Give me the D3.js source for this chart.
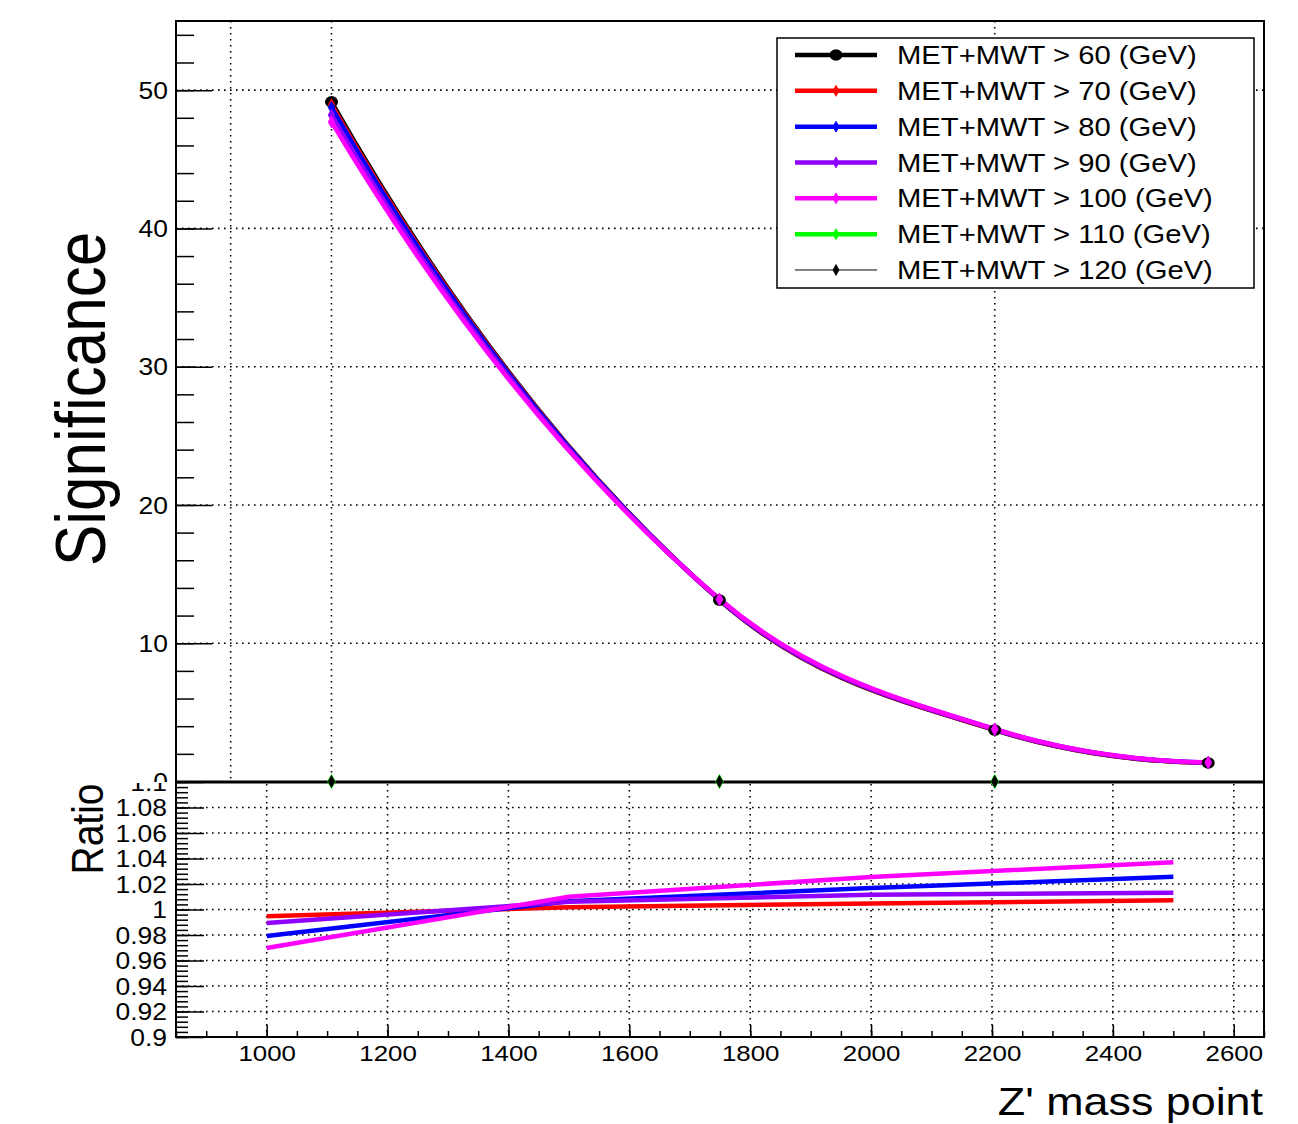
<!DOCTYPE html>
<html>
<head>
<meta charset="utf-8">
<script src="https://cdn.jsdelivr.net/npm/d3@7"></script>
<style>
body { margin: 0; background: #fff; }
text { font-family: "Liberation Sans", Arial, Helvetica, sans-serif; fill: #000; }
</style>
</head>
<body>
<svg id="chart" width="1298" height="1124"></svg>
<script>
// data
const massPoints = [1000, 1500, 2000, 2500]
const cutLabels = ['MET+MWT > 60 (GeV)', 'MET+MWT > 70 (GeV)', 'MET+MWT > 80 (GeV)', 'MET+MWT > 90 (GeV)',
	'MET+MWT > 100 (GeV)', 'MET+MWT > 110 (GeV)', 'MET+MWT > 120 (GeV)']
const sig60 = [49.15, 13.12, 3.72, 1.34]
const sig70 = [48.95, 13.14, 3.74, 1.35]
const sig80 = [48.75, 13.16, 3.78, 1.37]
const sig90 = [48.2, 13.16, 3.76, 1.36]
const sig100 = [47.7, 13.2, 3.8, 1.38]
const sig110 = [0, 0, 0]
const sig120 = [0, 0, 0]
const ratio70 = [0.9947, 1.0018, 1.0047, 1.0073]
const ratio80 = [0.9793, 1.0065, 1.0168, 1.0257]
const ratio90 = [0.9895, 1.006, 1.0115, 1.0131]
const ratio100 = [0.9698, 1.010, 1.0255, 1.037]
const sigTicks = [0, 10, 20, 30, 40, 50]
const ratioTicks = [0.9, 0.92, 0.94, 0.96, 0.98, 1, 1.02, 1.04, 1.06, 1.08, 1.1]
const massTicks = [1000, 1200, 1400, 1600, 1800, 2000, 2200, 2400, 2600]
const logGridX = [900, 1000, 2000]

const series = [
	{label: cutLabels[0], color: '#000000', width: 4.5, marker: 'circle', x: massPoints, sig: sig60, ratio: null},
	{label: cutLabels[1], color: '#ff0000', width: 4.5, marker: 'diamond', x: massPoints, sig: sig70, ratio: ratio70},
	{label: cutLabels[2], color: '#0000ff', width: 4.5, marker: 'diamond', x: massPoints, sig: sig80, ratio: ratio80},
	{label: cutLabels[3], color: '#9000ff', width: 4.5, marker: 'diamond', x: massPoints, sig: sig90, ratio: ratio90},
	{label: cutLabels[4], color: '#ff00ff', width: 4.5, marker: 'diamond', x: massPoints, sig: sig100, ratio: ratio100},
	{label: cutLabels[5], color: '#00ff00', width: 4.5, marker: 'diamond', x: massPoints.slice(0, 3), sig: sig110, ratio: null},
	{label: cutLabels[6], color: '#000000', width: 1, marker: 'diamond', x: massPoints.slice(0, 3), sig: sig120, ratio: null}
]

// layout (the picture is stretched a bit sideways, so the text is too)
const SX = 1.15
const left = 176, right = 1264
const topY = 21, midY = 782, botY = 1037

const svg = d3.select('#chart')

const xTop = d3.scaleLog().domain([850, 2650]).range([left, right])
const yTop = d3.scaleLinear().domain([0, 55]).range([midY - 0.5, topY])
const xBot = d3.scaleLinear().domain([850, 2650]).range([left, right])
const yBot = d3.scaleLinear().domain([0.9, 1.1]).range([botY, midY])

const defs = svg.append('defs')
defs.append('clipPath').attr('id', 'clipTop')
	.append('rect').attr('x', left).attr('y', topY).attr('width', right - left).attr('height', midY - topY - 3.5)
defs.append('clipPath').attr('id', 'clipBot')
	.append('rect').attr('x', left).attr('y', midY).attr('width', right - left).attr('height', botY - midY)
// axis groups are shifted by `left`, so these rects are in their coordinates
defs.append('clipPath').attr('id', 'clipBotLabels')
	.append('rect').attr('x', -left).attr('y', midY + 1).attr('width', 1298).attr('height', 400)
defs.append('clipPath').attr('id', 'clipTopLabels')
	.append('rect').attr('x', -left).attr('y', 0).attr('width', 1298).attr('height', midY)

// smooth curve through the points: cubic hermite pieces, slopes taken
// from the neighbours inside and from three points at both ends
function smoothCurve(context) {
	let pts = []
	return {
		areaStart() {},
		areaEnd() {},
		lineStart() { pts = [] },
		point(x, y) { pts.push([+x, +y]) },
		lineEnd() {
			const n = pts.length
			if (n === 0) return
			context.moveTo(pts[0][0], pts[0][1])
			if (n < 3) {
				for (let i = 1; i < n; i++) context.lineTo(pts[i][0], pts[i][1])
				return
			}
			const h = [], s = [], m = []
			for (let i = 0; i < n - 1; i++) {
				h.push(pts[i + 1][0] - pts[i][0])
				s.push((pts[i + 1][1] - pts[i][1]) / h[i])
			}
			m[0] = s[0] + (s[0] - s[1]) * h[0] / (h[0] + h[1])
			for (let i = 1; i < n - 1; i++) {
				const centred = (pts[i + 1][1] - pts[i - 1][1]) / (pts[i + 1][0] - pts[i - 1][0])
				const weighted = (s[i - 1] * h[i] + s[i] * h[i - 1]) / (h[i - 1] + h[i])
				m[i] = (centred + weighted) / 2
			}
			m[n - 1] = s[n - 2] + (s[n - 2] - s[n - 3]) * h[n - 2] / (h[n - 3] + h[n - 2])
			for (let i = 0; i < n - 1; i++) {
				const d = h[i] / 3
				context.bezierCurveTo(pts[i][0] + d, pts[i][1] + m[i] * d,
					pts[i + 1][0] - d, pts[i + 1][1] - m[i + 1] * d,
					pts[i + 1][0], pts[i + 1][1])
			}
		}
	}
}

function drawMarker(g, s, x, y, size) {
	if (s.marker === 'circle') {
		g.append('ellipse').attr('cx', x).attr('cy', y).attr('rx', 6.5).attr('ry', 5.8).attr('fill', s.color)
	} else {
		const w = size * 0.55
		g.append('path').attr('d', `M0,${-size} L${w},0 L0,${size} L${-w},0 Z`)
			.attr('transform', `translate(${x},${y})`).attr('fill', s.color)
			.attr('stroke', s.color).attr('stroke-width', 0.8)
	}
}

function stretchLabels(axisG, dx, dy) {
	axisG.selectAll('text').each(function () {
		d3.select(this).attr('x', 0).attr('y', 0).attr('dy', null)
			.attr('transform', `translate(${dx},${dy}) scale(${SX},1)`)
	})
}

const gridStyle = g => g.attr('stroke', '#000').attr('stroke-width', 1.6).attr('stroke-dasharray', '1.6,4.4').attr('fill', 'none')

// ---------- top pad ----------
const topGrid = svg.append('g').call(gridStyle)
topGrid.selectAll('.hgrid').data(sigTicks.filter(d => d > 0)).enter().append('line')
	.attr('x1', left).attr('x2', right).attr('y1', d => yTop(d)).attr('y2', d => yTop(d))
topGrid.selectAll('.vgrid').data(logGridX).enter().append('line')
	.attr('x1', d => xTop(d)).attr('x2', d => xTop(d)).attr('y1', topY).attr('y2', midY)

const yTopMinor = svg.append('g').attr('transform', `translate(${left},0)`)
	.call(d3.axisLeft(yTop).tickValues(d3.range(0, 55, 2)).tickSizeInner(-18).tickSizeOuter(0).tickFormat(''))
yTopMinor.select('.domain').remove()
const yTopAxis = svg.append('g').attr('transform', `translate(${left},0)`)
	.attr('clip-path', 'url(#clipTopLabels)')
	.call(d3.axisLeft(yTop).tickValues(sigTicks).tickSizeInner(-36).tickSizeOuter(0).tickPadding(8))
yTopAxis.select('.domain').remove()
yTopAxis.selectAll('text').attr('font-size', 23).attr('font-family', '"Liberation Sans", Arial, sans-serif')
stretchLabels(yTopAxis, -8, 8.2)

const topCurves = svg.append('g').attr('clip-path', 'url(#clipTop)')
const topLine = d3.line().curve(smoothCurve)
series.forEach(s => {
	const pts = s.x.map((m, i) => [xTop(m), yTop(s.sig[i])])
	topCurves.append('path').attr('d', topLine(pts))
		.attr('fill', 'none').attr('stroke', s.color).attr('stroke-width', s.width)
})
const topMarkers = svg.append('g')
series.slice(0, 5).forEach(s => {
	s.x.forEach((m, i) => drawMarker(topMarkers, s, xTop(m), yTop(s.sig[i]), 6))
})

// ---------- bottom pad ----------
const botGrid = svg.append('g').call(gridStyle)
botGrid.selectAll('.hgrid').data(ratioTicks.slice(1, -1)).enter().append('line')
	.attr('x1', left).attr('x2', right).attr('y1', d => yBot(d)).attr('y2', d => yBot(d))
botGrid.selectAll('.vgrid').data(massTicks).enter().append('line')
	.attr('x1', d => xBot(d)).attr('x2', d => xBot(d)).attr('y1', midY + 2).attr('y2', botY)

const yBotMinor = svg.append('g').attr('transform', `translate(${left},0)`)
	.call(d3.axisLeft(yBot).tickValues(d3.range(0, 51).map(i => 0.9 + i * 0.004)).tickSizeInner(-12).tickSizeOuter(0).tickFormat(''))
yBotMinor.select('.domain').remove()
const yBotAxis = svg.append('g').attr('transform', `translate(${left},0)`)
	.attr('clip-path', 'url(#clipBotLabels)')
	.call(d3.axisLeft(yBot).tickValues(ratioTicks).tickSizeInner(-28).tickSizeOuter(0).tickPadding(9).tickFormat(d3.format('~g')))
yBotAxis.select('.domain').remove()
yBotAxis.selectAll('text').attr('font-size', 23).attr('font-family', '"Liberation Sans", Arial, sans-serif')
stretchLabels(yBotAxis, -9, 8.2)

const xBotMinor = svg.append('g').attr('transform', `translate(0,${botY})`)
	.call(d3.axisBottom(xBot).tickValues(d3.range(850, 2651, 50)).tickSizeInner(-6).tickSizeOuter(0).tickFormat(''))
xBotMinor.select('.domain').remove()
const xBotAxis = svg.append('g').attr('transform', `translate(0,${botY})`)
	.call(d3.axisBottom(xBot).tickValues(massTicks).tickSizeInner(-12).tickSizeOuter(0).tickPadding(8).tickFormat(d3.format('d')))
xBotAxis.select('.domain').remove()
xBotAxis.selectAll('text').attr('font-size', 22.5).attr('font-family', '"Liberation Sans", Arial, sans-serif')
stretchLabels(xBotAxis, 0, 23.7)
svg.selectAll('.tick line').attr('stroke', '#000').attr('stroke-width', 1.5)

const ratioLine = d3.line()
const botCurves = svg.append('g').attr('clip-path', 'url(#clipBot)')
series.filter(s => s.ratio).forEach(s => {
	const pts = s.x.map((m, i) => [xBot(m), yBot(s.ratio[i])])
	botCurves.append('path').attr('d', ratioLine(pts))
		.attr('fill', 'none').attr('stroke', s.color).attr('stroke-width', s.width)
})

// frames
svg.append('path')
	.attr('d', `M${left},${midY} L${left},${topY} L${right},${topY} L${right},${midY}`)
	.attr('fill', 'none').attr('stroke', '#000').attr('stroke-width', 2)
svg.append('path')
	.attr('d', `M${left},${midY} L${left},${botY} L${right},${botY} L${right},${midY}`)
	.attr('fill', 'none').attr('stroke', '#000').attr('stroke-width', 2)
svg.append('line').attr('x1', left).attr('x2', right).attr('y1', midY).attr('y2', midY)
	.attr('stroke', '#000').attr('stroke-width', 3)

// markers of the empty selections sit on the zero line, above the frame
const zeroMarkers = svg.append('g')
series.slice(5).forEach((s, k) => {
	s.x.forEach((m, i) => drawMarker(zeroMarkers, s, xTop(m), yTop(s.sig[i]), k === 0 ? 7 : 6))
})

// titles
svg.append('text').text('Significance')
	.attr('text-anchor', 'middle').attr('font-size', 62)
	.attr('transform', `translate(105,399) scale(${SX},1) rotate(-90)`)
svg.append('text').text('Ratio')
	.attr('text-anchor', 'middle').attr('font-size', 39)
	.attr('transform', `translate(103,829) scale(${SX},1) rotate(-90)`)
svg.append('text').text("Z' mass point")
	.attr('text-anchor', 'end').attr('font-size', 39)
	.attr('transform', `translate(1263,1115) scale(${SX},1)`)

// legend
const legend = svg.append('g')
legend.append('rect').attr('x', 777).attr('y', 38).attr('width', 477).attr('height', 250)
	.attr('fill', '#fff').attr('stroke', '#000').attr('stroke-width', 1.5)
series.forEach((s, i) => {
	const y = 55 + i * 35.83
	legend.append('line').attr('x1', 795).attr('x2', 877).attr('y1', y).attr('y2', y)
		.attr('stroke', s.color).attr('stroke-width', s.width)
	drawMarker(legend, s, 836, y, 5.5)
	legend.append('text').text(s.label)
		.attr('font-size', 25.4).attr('dy', '0.36em')
		.attr('transform', `translate(897,${y}) scale(${SX},1)`)
})
</script>
</body>
</html>
